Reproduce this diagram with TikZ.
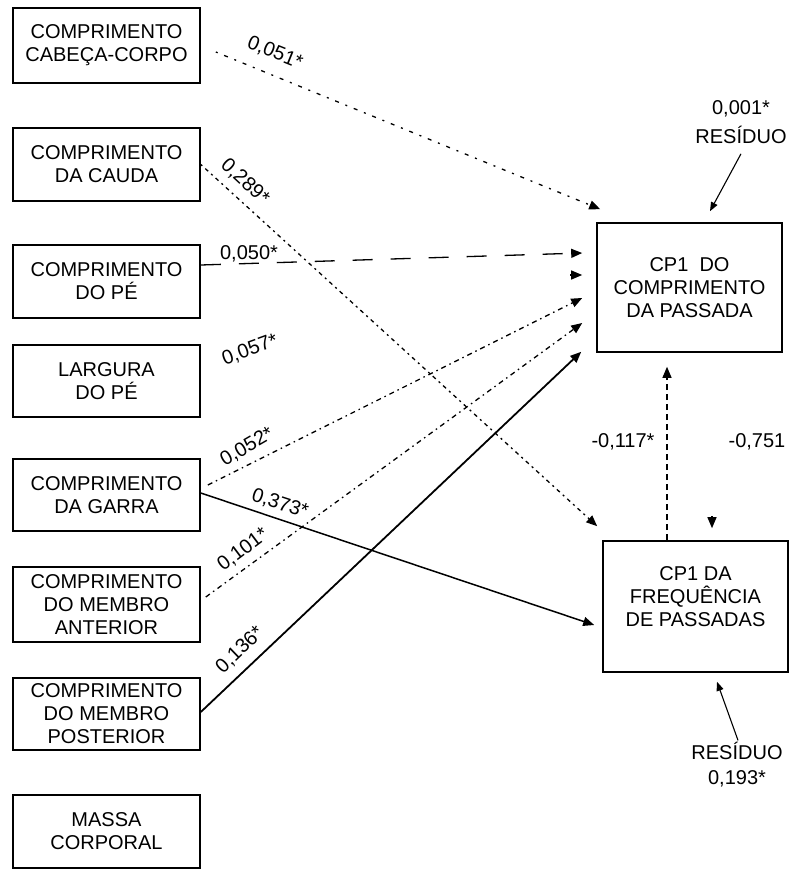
\documentclass[tikz,border=0pt]{standalone}
\usepackage{fontspec}
\setmainfont{Liberation Sans}
\usetikzlibrary{arrows.meta}
\begin{document}
\begin{tikzpicture}[x=1pt,y=-1pt,
  box/.style={draw, line width=1.6pt, inner sep=0pt, align=center, minimum width=187pt, font=\fontsize{20}{23}\selectfont},
  rbox/.style={box, minimum width=185pt},
  lbl/.style={inner sep=0pt, align=center, font=\fontsize{20}{23}\selectfont},
  arr/.style={-{Triangle[length=11pt,width=9pt]}, line width=1.3pt},
  rarr/.style={-{Triangle[length=9pt,width=7pt]}, line width=1.1pt},
  sparse/.style={arr, dash pattern=on 2pt off 7pt on 4pt off 7pt},
  dotline/.style={arr, dash pattern=on 2pt off 4pt on 4pt off 4pt},
  longdash/.style={arr, dash pattern=on 20pt off 18pt},
  dashdot/.style={arr, dash pattern=on 5pt off 4pt on 1.5pt off 4pt},
  vdash/.style={arr, line width=1.1pt, dash pattern=on 6pt off 4pt},
  solidarr/.style={arr, line width=1.8pt}
]
\useasboundingbox (0,0) rectangle (791,869);

% left boxes
\node[box, minimum height=75pt] (b1) at (106.5,45.5) {COMPRIMENTO\\CABEÇA-CORPO};
\node[box, minimum height=73pt] (b2) at (106.5,164.5) {COMPRIMENTO\\DA CAUDA};
\node[box, minimum height=73pt] (b3) at (106.5,281.5) {COMPRIMENTO\\DO PÉ};
\node[box, minimum height=72pt] (b4) at (106.5,381) {LARGURA\\DO PÉ};
\node[box, minimum height=72pt] (b5) at (106.5,495) {COMPRIMENTO\\DA GARRA};
\node[box, minimum height=75pt] (b6) at (106.5,604.5) {COMPRIMENTO\\DO MEMBRO\\ANTERIOR};
\node[box, minimum height=72pt] (b7) at (106.5,714) {COMPRIMENTO\\DO MEMBRO\\POSTERIOR};
\node[box, minimum height=73pt] (b8) at (106.5,831.5) {MASSA\\CORPORAL};

% right boxes
\node[rbox, minimum height=129pt] (r1) at (689.5,287.5) {CP1~~DO\\COMPRIMENTO\\DA PASSADA};
\node[rbox, minimum height=131pt] (r2) at (695.5,606.5) {CP1 DA\\FREQUÊNCIA\\DE PASSADAS\\[-3pt]};

% residues
\node[lbl, font=\fontsize{20}{29}\selectfont] (res1) at (741,122) {0,001*\\RESÍDUO};
\node[lbl, font=\fontsize{20}{25}\selectfont] (res2) at (737,765) {RESÍDUO\\0,193*};

% connectors
\draw[sparse] ([xshift=15pt,yshift=-6.5pt]b1.east) -- ([xshift=4pt,yshift=13pt]r1.north west);
\draw[dotline] (b2.east) -- ([xshift=-5pt,yshift=14pt]r2.north west);
\draw[longdash] ([yshift=16.5pt]b3.east) -- ([xshift=-14pt,yshift=34.5pt]r1.west);
\draw[arr] ([xshift=-26pt,yshift=12.5pt]r1.west) -- ([xshift=-14pt,yshift=12.5pt]r1.west);
\draw[dashdot] ([xshift=7pt,yshift=10pt]b5.east) -- ([xshift=-14pt,yshift=-10.5pt]r1.west);
\draw[dashdot] ([xshift=5pt,yshift=7.5pt]b6.east) -- ([xshift=-14pt,yshift=-35.5pt]r1.west);
\draw[solidarr] ([yshift=2pt]b7.east) -- ([xshift=-15pt,yshift=1pt]r1.south west);
\draw[arr, line width=1.5pt] ([yshift=2pt]b5.east) -- ([xshift=-8pt,yshift=-18.5pt]r2.west);
\draw[vdash] ([xshift=-28.5pt]r2.north) -- ([xshift=-22.5pt,yshift=-14pt]r1.south);
\draw[arr] ([xshift=16.5pt,yshift=24pt]r2.north) -- ([xshift=16.5pt,yshift=12pt]r2.north);
\draw[rarr] ([yshift=-10pt]res1.south) -- ([xshift=20.5pt,yshift=11pt]r1.north);
\draw[rarr] ([xshift=1pt,yshift=2pt]res2.north) -- ([xshift=21.5pt,yshift=-9pt]r2.south);

% coefficient labels
\node[lbl, rotate=-22] (l1) at (275,53) {0,051*};
\node[lbl, rotate=-43] (l2) at (245,182) {0,289*};
\node[lbl] (l3) at (249,254) {0,050*};
\node[lbl, rotate=20] (l4) at (250,350) {0,057*};
\node[lbl, rotate=30] (l5) at (247,447) {0,052*};
\node[lbl, rotate=-18] (l6) at (280,504) {0,373*};
\node[lbl, rotate=37] (l7) at (243,550) {0,101*};
\node[lbl, rotate=44] (l8) at (240,650) {0,136*};
\node[lbl] (l9) at (623,442) {-0,117*};
\node[lbl] (l10) at (757,442) {-0,751};
\end{tikzpicture}
\end{document}
